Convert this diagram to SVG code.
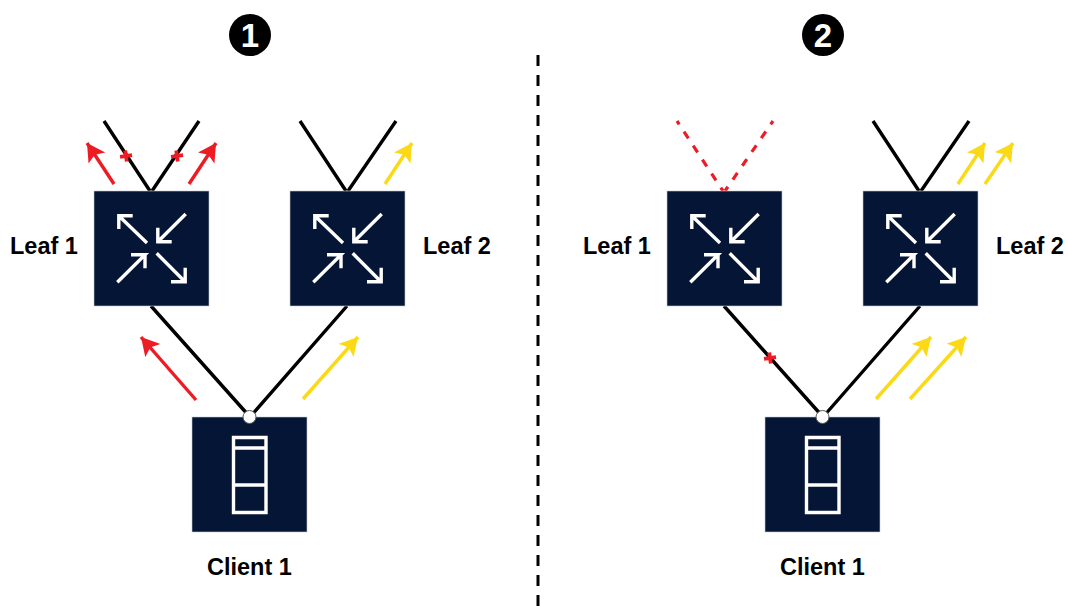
<svg xmlns="http://www.w3.org/2000/svg" width="1068" height="606" viewBox="0 0 1068 606">
<style>
text{font-family:"Liberation Sans",Arial,sans-serif;font-weight:700;fill:#000}
.lb{font-size:23.500px}
.num{font-size:33px;fill:#fff;text-anchor:middle}
.box{fill:#051535;stroke:#c5cad4;stroke-width:.6}
.ic{fill:none;stroke:#fff;stroke-width:3.400}
.ln{fill:none;stroke:#000;stroke-width:3.400}
.dash{fill:none;stroke:#ed1c24;stroke-width:3.200;stroke-dasharray:8 8.750;stroke-dashoffset:4}
.red{stroke:#ed1c24;stroke-width:3.400;fill:none;marker-end:url(#mr)}
.yel{stroke:#fbd914;stroke-width:3.400;fill:none;marker-end:url(#my)}
.x{fill:none;stroke:#ed1c24;stroke-width:3.800}
.port{fill:#fff;stroke:#555;stroke-width:1}
</style>
<defs>
<marker id="mr" markerUnits="userSpaceOnUse" markerWidth="22" markerHeight="22" refX="18" refY="10" orient="auto"><path d="M0 0L18 10L0 20L4 10Z" fill="#ed1c24"/></marker>
<marker id="my" markerUnits="userSpaceOnUse" markerWidth="22" markerHeight="22" refX="18" refY="10" orient="auto"><path d="M0 0L18 10L0 20L4 10Z" fill="#fbd914"/></marker>
<g id="leaf">
<rect class="box" width="115" height="115"/>
<path class="ic" d="M53 52L24.500 24.500M38.700 24.700H24.800V38M62.700 62.300L91 90.700M91.200 76.700V90.700H77M91.700 23L63.800 50.700M63.800 36.700V50.700H77.700M23.300 91.300L51 63.800H37M51 63.800V77.300"/>
</g>
<g id="client">
<rect class="box" width="115" height="115"/>
<path class="ic" d="M41.500 20.500H74V95.500H41.500ZM41.500 31H74M41.500 68H74"/>
</g>
<path id="plus" d="M-6 0.800L6-0.800M-0.800-5.500L0.800 5.500"/>
</defs>
<path d="M538 55V606" fill="none" stroke="#000" stroke-width="3" stroke-dasharray="11 9"/>
<g id="connectors">
<path class="ln" d="M104 121L150 191M199 121L152 191M300 121L346 191M396 121L348 191M151 306L250 417M347 306L250 417"/>
<path class="red" d="M114 184L87 143"/>
<path class="red" d="M189 184L216 143"/>
<path class="yel" d="M385 184L412 143"/>
<path class="red" d="M196 400L141 337"/>
<path class="yel" d="M303 399L358 337"/>
<use href="#plus" class="x" x="126" y="156"/>
<use href="#plus" class="x" x="177" y="156"/>
<path class="dash" d="M677 121L723 191M773 121L725 191"/>
<path class="ln" d="M873 121L919 191M969 121L921 191M724 306L823 417M920 306L823 417"/>
<path class="yel" d="M958 184L985 143"/>
<path class="yel" d="M985 184L1013 143"/>
<path class="yel" d="M876 399L931 337"/>
<path class="yel" d="M910 399L966 337"/>
<use href="#plus" class="x" x="770" y="358"/>
</g>
<g id="badge-1"><circle cx="250" cy="35" r="21"/><text class="num" x="250" y="47">1</text></g>
<g id="badge-2"><circle cx="823" cy="35" r="21"/><text class="num" x="823" y="47">2</text></g>
<g id="p1-leaf1"><use href="#leaf" x="94" y="191"/><text class="lb" x="10" y="254">Leaf 1</text></g>
<g id="p1-leaf2"><use href="#leaf" x="290" y="191"/><text class="lb" x="423" y="254">Leaf 2</text></g>
<g id="p1-client"><use href="#client" x="192" y="417"/><circle class="port" cx="249.500" cy="417" r="6.500"/><text class="lb" x="207" y="575">Client 1</text></g>
<g id="p2-leaf1"><use href="#leaf" x="667" y="191"/><text class="lb" x="583" y="254">Leaf 1</text></g>
<g id="p2-leaf2"><use href="#leaf" x="863" y="191"/><text class="lb" x="996" y="254">Leaf 2</text></g>
<g id="p2-client"><use href="#client" x="765" y="417"/><circle class="port" cx="822.500" cy="417" r="6.500"/><text class="lb" x="780" y="575">Client 1</text></g>
</svg>
